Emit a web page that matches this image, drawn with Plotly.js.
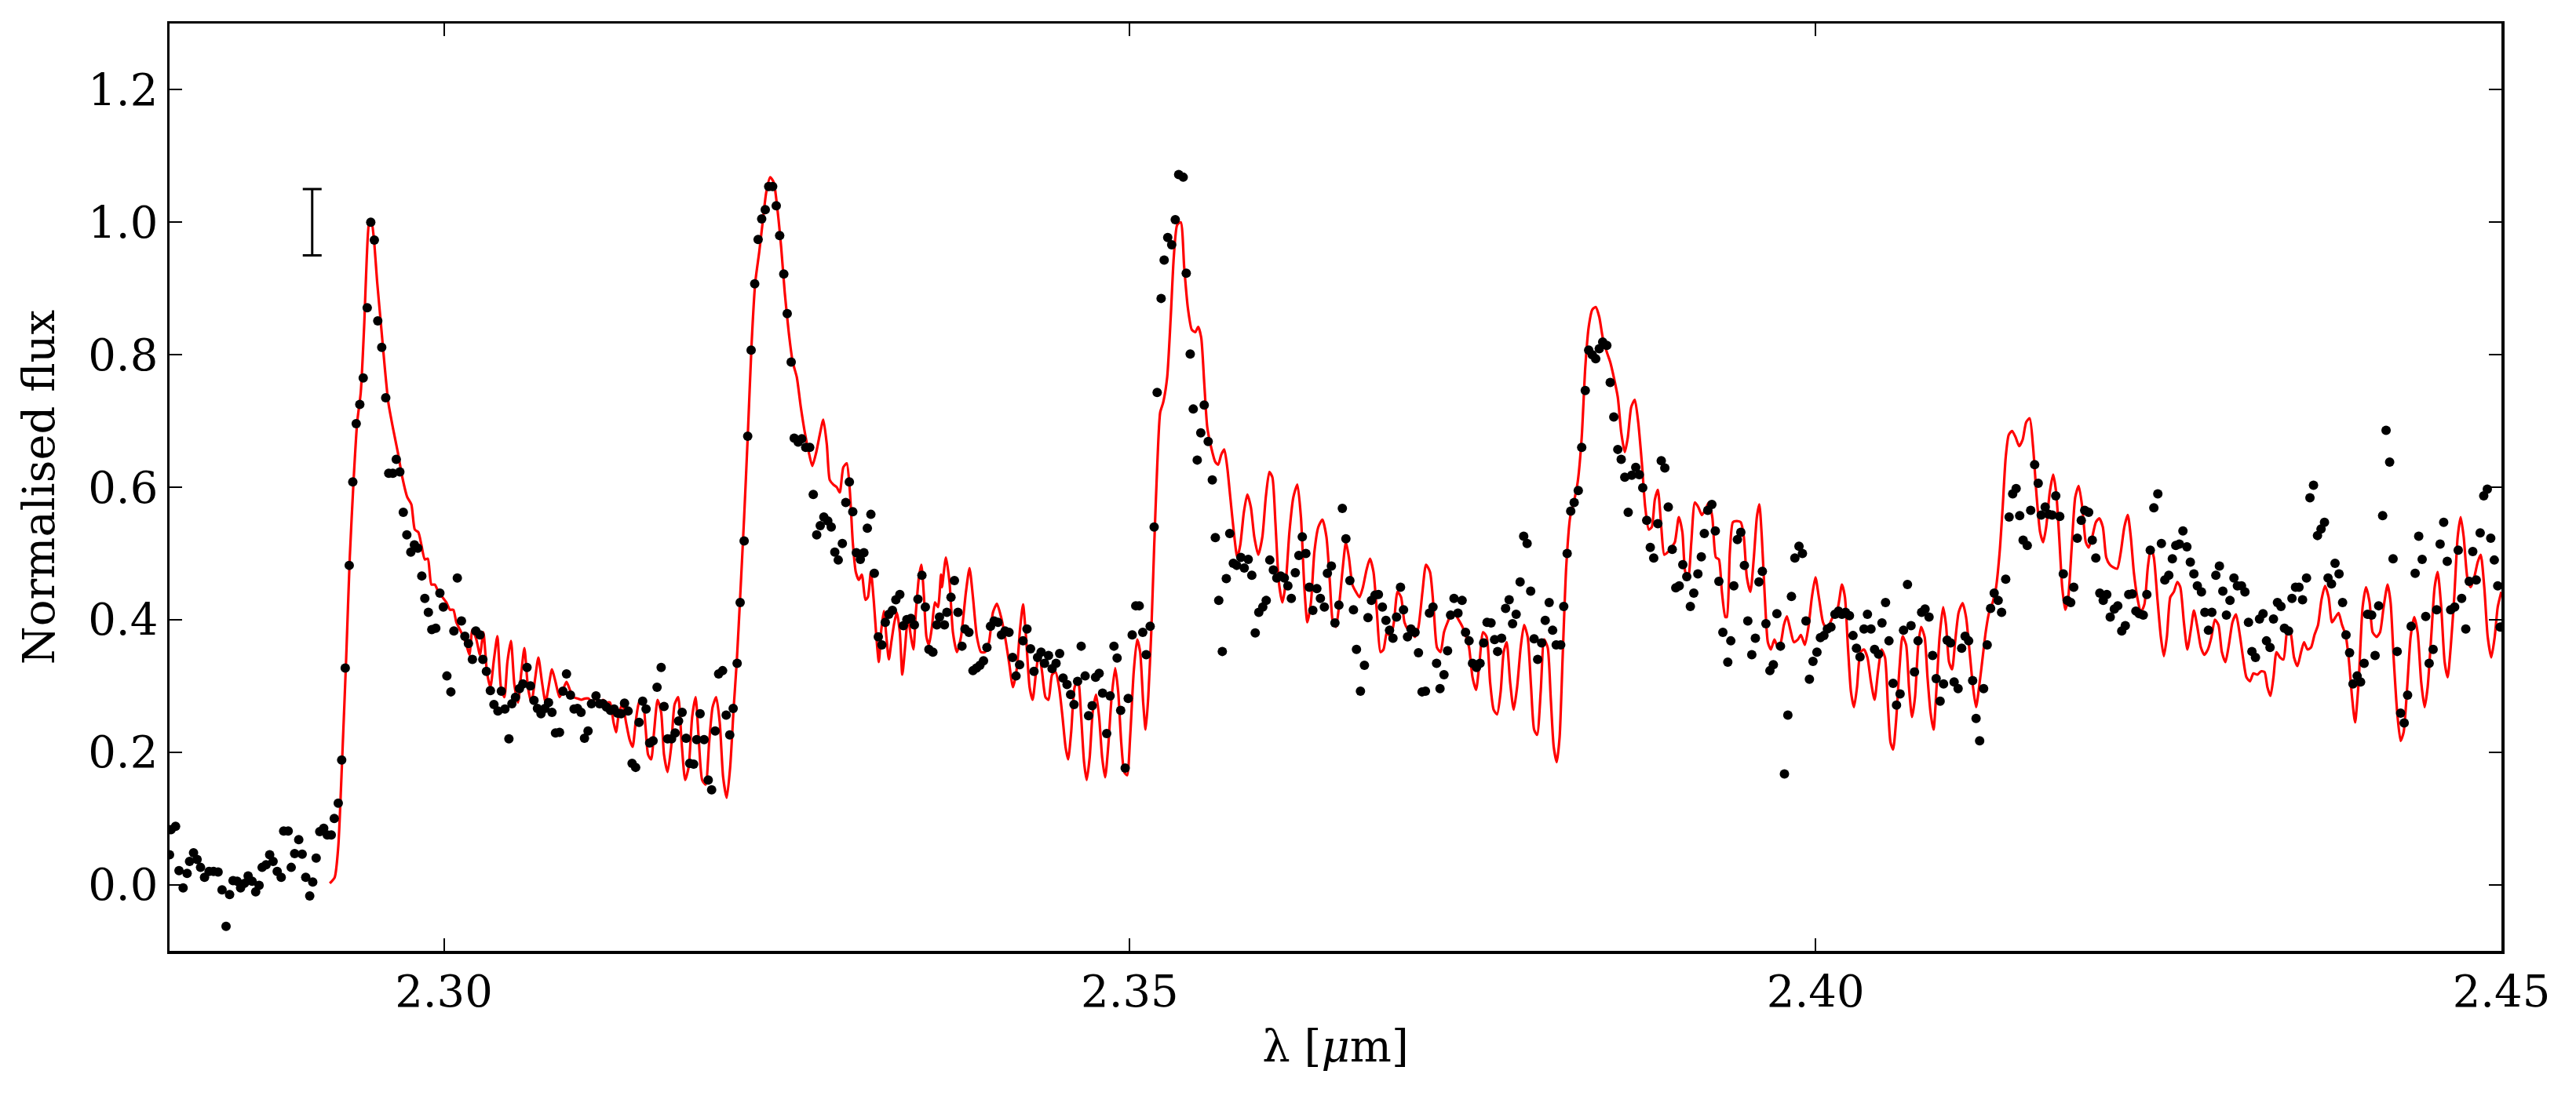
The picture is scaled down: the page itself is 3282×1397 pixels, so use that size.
<!DOCTYPE html>
<html>
<head>
<meta charset="utf-8">
<script src="https://cdn.plot.ly/plotly-3.0.1.min.js"></script>
<style>
html,body{margin:0;padding:0;background:#fff;}
#chart{width:3282px;height:1397px;}
</style>
</head>
<body>
<div id="chart"></div>
<script>
// Observed spectrum (black dots)
const dataLam = [
2.28000,2.28011,2.28044,2.28069,2.28099,2.28128,2.28146,2.28175,2.28201,2.28226,2.28255,2.28288,2.28321,2.28354,2.28383,2.28412,2.28438,2.28463,2.28493,2.28518,
2.28547,2.28573,2.28602,2.28628,2.28653,2.28675,2.28704,2.28730,2.28755,2.28785,2.28814,2.28832,2.28865,2.28887,2.28912,2.28942,2.28967,2.28993,2.29022,2.29044,
2.29069,2.29095,2.29124,2.29150,2.29179,2.29201,2.29230,2.29255,2.29281,2.29310,2.29336,2.29361,2.29387,2.29412,2.29441,2.29467,2.29493,2.29518,2.29547,2.29576,
2.29598,2.29628,2.29653,2.29679,2.29704,2.29730,2.29759,2.29785,2.29810,2.29839,2.29861,2.29887,2.29912,2.29941,2.29971,2.29996,2.30022,2.30051,2.30073,2.30098,
2.30128,2.30153,2.30179,2.30208,2.30233,2.30263,2.30284,2.30310,2.30339,2.30365,2.30394,2.30419,2.30445,2.30474,2.30496,2.30522,2.30551,2.30576,2.30606,2.30631,
2.30657,2.30682,2.30708,2.30737,2.30763,2.30788,2.30814,2.30843,2.30868,2.30894,2.30923,2.30949,2.30974,2.31000,2.31025,2.31051,2.31076,2.31109,2.31135,2.31160,
2.31186,2.31215,2.31241,2.31266,2.31292,2.31317,2.31343,2.31372,2.31398,2.31423,2.31449,2.31474,2.31500,2.31525,2.31554,2.31584,2.31605,2.31631,2.31660,2.31686,
2.31711,2.31737,2.31766,2.31792,2.31821,2.31843,2.31868,2.31897,2.31927,2.31952,2.31978,2.32003,2.32032,2.32058,2.32084,2.32109,2.32138,2.32160,2.32189,2.32215,
2.32240,2.32266,2.32291,2.32317,2.32343,2.32368,2.32397,2.32423,2.32448,2.32478,2.32503,2.32532,2.32554,2.32583,2.32609,2.32638,2.32667,2.32693,2.32718,2.32744,
2.32770,2.32799,2.32824,2.32850,2.32875,2.32905,2.32930,2.32956,2.32981,2.33007,2.33036,2.33062,2.33087,2.33113,2.33138,2.33167,2.33193,2.33218,2.33244,2.33270,
2.33295,2.33324,2.33350,2.33375,2.33405,2.33430,2.33456,2.33485,2.33510,2.33536,2.33565,2.33594,2.33613,
2.33649,2.33667,2.33697,2.33722,2.33748,2.33777,2.33799,2.33828,2.33857,2.33883,2.33908,2.33934,2.33959,2.33985,2.34011,2.34040,2.34065,2.34091,2.34120,2.34146,
2.34171,2.34197,2.34222,2.34251,2.34277,2.34302,2.34328,2.34354,2.34379,2.34408,2.34434,2.34463,2.34489,2.34514,2.34543,2.34569,2.34594,2.34620,2.34646,2.34675,
2.34700,2.34726,2.34751,2.34777,2.34802,2.34832,2.34857,2.34885,2.34908,2.34934,2.34967,2.34989,2.35018,2.35044,2.35069,2.35095,2.35120,2.35149,2.35178,2.35200,
2.35229,2.35251,2.35277,2.35306,2.35332,2.35357,2.35390,2.35412,2.35441,2.35463,2.35492,2.35518,2.35543,2.35572,2.35602,2.35624,2.35649,2.35675,2.35704,2.35729,
2.35755,2.35780,2.35810,2.35835,2.35864,2.35890,2.35915,2.35941,2.35970,2.35995,2.36021,2.36047,2.36072,2.36101,2.36127,2.36153,2.36178,2.36207,2.36233,2.36258,
2.36284,2.36309,2.36335,2.36364,2.36390,2.36419,2.36441,2.36470,2.36496,2.36525,2.36550,2.36576,2.36605,2.36631,2.36653,2.36682,2.36711,2.36737,2.36762,2.36788,
2.36813,2.36842,2.36868,2.36894,2.36919,2.36945,2.36974,2.36996,2.37025,2.37050,2.37080,2.37105,2.37131,2.37156,2.37185,2.37211,2.37237,2.37262,2.37291,2.37317,
2.37339,2.37364,2.37393,2.37423,2.37448,2.37474,2.37499,2.37528,2.37554,2.37580,2.37605,2.37634,2.37660,2.37682,2.37711,2.37740,2.37766,2.37791,2.37817,2.37846,
2.37872,2.37897,2.37923,2.37948,2.37974,2.38003,2.38029,2.38058,2.38083,2.38109,2.38142,2.38164,2.38189,2.38215,2.38240,2.38270,2.38295,2.38321,2.38346,2.38372,
2.38397,2.38423,2.38448,2.38478,2.38503,2.38529,2.38558,2.38583,2.38609,2.38634,2.38660,2.38689,2.38715,2.38740,2.38769,2.38795,2.38820,2.38850,2.38875,2.38901,
2.38926,2.38955,2.38981,2.39006,2.39032,2.39061,2.39087,2.39112,2.39142,2.39167,2.39189,2.39214,2.39244,2.39269,2.39295,2.39324,
2.39360,2.39382,2.39404,2.39430,2.39455,2.39481,2.39506,2.39535,2.39561,2.39587,2.39612,2.39638,2.39667,2.39692,2.39718,2.39744,2.39773,2.39798,2.39824,2.39849,
2.39879,2.39904,2.39930,2.39955,2.39981,2.40010,2.40035,2.40061,2.40086,2.40112,2.40141,2.40167,2.40192,2.40218,2.40247,2.40273,2.40298,2.40324,2.40353,2.40378,
2.40404,2.40430,2.40459,2.40484,2.40510,2.40535,2.40565,2.40590,2.40616,2.40641,2.40670,2.40696,2.40721,2.40747,2.40773,2.40798,2.40827,2.40853,2.40879,2.40908,
2.40933,2.40959,2.40984,2.41010,2.41039,2.41065,2.41090,2.41116,2.41145,2.41170,2.41196,2.41225,2.41251,2.41276,2.41302,2.41331,2.41356,2.41386,2.41411,2.41437,
2.41462,2.41488,2.41513,2.41543,2.41568,2.41597,2.41623,2.41645,2.41674,2.41700,2.41725,2.41751,2.41780,2.41806,2.41835,2.41860,2.41882,2.41908,2.41937,2.41962,
2.41991,2.42017,2.42043,2.42072,2.42097,2.42123,2.42148,2.42178,2.42203,2.42232,2.42258,2.42283,2.42309,2.42335,2.42360,2.42389,2.42415,2.42440,2.42466,2.42495,
2.42521,2.42546,2.42575,2.42601,2.42626,2.42652,2.42678,2.42707,2.42732,2.42758,2.42783,2.42813,2.42838,2.42864,2.42889,2.42918,2.42944,2.42969,2.42995,2.43021,
2.43050,2.43075,2.43105,2.43130,2.43156,2.43181,2.43207,2.43236,2.43262,2.43287,2.43313,2.43338,2.43367,2.43393,2.43418,2.43448,2.43473,2.43499,2.43524,2.43550,
2.43579,2.43604,2.43630,2.43659,2.43685,2.43710,2.43736,2.43761,2.43787,2.43816,2.43842,2.43867,2.43893,2.43918,2.43948,2.43973,2.43999,2.44024,2.44054,2.44079,
2.44105,2.44134,2.44159,2.44185,2.44210,2.44240,2.44265,2.44291,2.44316,2.44342,2.44371,2.44397,2.44422,2.44448,2.44473,2.44502,2.44528,2.44553,2.44579,2.44605,
2.44630,2.44659,2.44685,2.44710,2.44740,2.44765,2.44791,2.44816,2.44845,2.44871,2.44897,2.44922,2.44948,2.44973,2.44991
];
const dataFlux = [
0.045,0.083,0.088,0.021,-0.005,0.017,0.035,0.048,0.038,0.026,0.011,0.020,0.020,0.019,-0.008,-0.063,-0.015,0.006,0.005,-0.005,
0.002,0.013,0.005,-0.011,-0.001,0.026,0.030,0.045,0.035,0.020,0.011,0.081,0.081,0.026,0.047,0.068,0.046,0.011,-0.017,0.004,
0.040,0.080,0.085,0.075,0.075,0.100,0.123,0.188,0.327,0.482,0.608,0.696,0.725,0.765,0.871,1.000,0.973,0.851,0.811,0.735,
0.621,0.621,0.642,0.623,0.562,0.528,0.502,0.513,0.508,0.466,0.432,0.411,0.385,0.387,0.440,0.419,0.315,0.291,0.383,0.463,
0.398,0.375,0.364,0.340,0.383,0.377,0.340,0.322,0.293,0.272,0.262,0.292,0.265,0.220,0.273,0.283,0.296,0.303,0.328,0.300,
0.278,0.266,0.258,0.266,0.275,0.260,0.229,0.230,0.292,0.318,0.286,0.265,0.266,0.260,0.221,0.232,0.273,0.285,0.273,0.273,
0.268,0.263,0.265,0.259,0.258,0.274,0.262,0.183,0.177,0.245,0.277,0.265,0.214,0.217,0.298,0.328,0.269,0.220,0.220,0.229,
0.247,0.260,0.221,0.183,0.182,0.219,0.258,0.219,0.158,0.143,0.232,0.318,0.323,0.256,0.226,0.266,0.334,0.426,0.519,0.677,
0.807,0.907,0.974,1.005,1.019,1.054,1.054,1.025,0.980,0.922,0.862,0.789,0.674,0.668,0.673,0.660,0.660,0.589,0.528,0.542,
0.555,0.549,0.540,0.502,0.490,0.515,0.577,0.608,0.563,0.501,0.491,0.501,0.538,0.559,0.470,0.374,0.362,0.396,0.408,0.414,
0.430,0.438,0.391,0.400,0.402,0.392,0.431,0.467,0.419,0.355,0.351,0.392,0.404,
0.392,0.411,0.434,0.459,0.411,0.360,0.386,0.381,0.323,0.327,0.331,0.338,0.358,0.390,0.398,0.396,0.377,0.383,0.381,0.343,
0.315,0.332,0.368,0.386,0.356,0.322,0.343,0.351,0.334,0.346,0.326,0.334,0.349,0.312,0.302,0.287,0.272,0.307,0.360,0.315,
0.255,0.270,0.313,0.319,0.289,0.228,0.285,0.360,0.342,0.263,0.176,0.281,0.377,0.421,0.421,0.381,0.347,0.390,0.540,0.743,
0.885,0.943,0.977,0.966,1.004,1.072,1.068,0.923,0.801,0.718,0.641,0.682,0.724,0.669,0.611,0.524,0.429,0.352,0.462,0.530,
0.485,0.482,0.494,0.478,0.491,0.467,0.380,0.411,0.419,0.429,0.490,0.475,0.463,0.466,0.463,0.451,0.432,0.471,0.497,0.525,
0.500,0.449,0.414,0.447,0.432,0.419,0.470,0.481,0.395,0.422,0.568,0.522,0.459,0.415,0.355,0.292,0.331,0.403,0.429,0.437,
0.438,0.419,0.399,0.384,0.372,0.404,0.449,0.415,0.374,0.386,0.381,0.350,0.291,0.292,0.410,0.419,0.334,0.296,0.317,0.353,
0.407,0.432,0.410,0.429,0.381,0.368,0.334,0.328,0.334,0.365,0.396,0.395,0.370,0.352,0.372,0.417,0.430,0.394,0.408,0.457,
0.526,0.515,0.443,0.371,0.340,0.365,0.399,0.426,0.384,0.362,0.362,0.420,0.500,0.564,0.577,0.595,0.660,0.746,0.807,0.800,
0.794,0.809,0.819,0.814,0.758,0.706,0.657,0.642,0.615,0.562,0.618,0.630,0.619,0.599,0.550,0.509,0.493,0.545,0.640,0.629,
0.570,0.506,0.448,0.451,0.483,0.465,0.420,0.440,0.469,0.495,0.530,0.565,0.574,0.534,0.458,0.381,
0.336,0.368,0.451,0.521,0.532,0.482,0.398,0.347,0.372,0.457,0.473,0.394,0.323,0.332,0.409,0.360,0.167,0.256,0.435,0.493,
0.511,0.500,0.398,0.310,0.337,0.351,0.373,0.376,0.386,0.389,0.408,0.413,0.408,0.411,0.406,0.376,0.357,0.344,0.386,0.408,
0.386,0.355,0.348,0.395,0.426,0.368,0.304,0.271,0.288,0.384,0.453,0.391,0.321,0.368,0.411,0.416,0.404,0.346,0.311,0.277,
0.303,0.369,0.365,0.306,0.296,0.357,0.375,0.368,0.308,0.251,0.217,0.296,0.362,0.417,0.440,0.429,0.411,0.461,0.555,0.590,
0.598,0.557,0.520,0.512,0.565,0.634,0.606,0.558,0.570,0.559,0.558,0.587,0.556,0.469,0.429,0.426,0.449,0.523,0.550,0.565,
0.562,0.520,0.493,0.440,0.429,0.438,0.404,0.416,0.421,0.383,0.391,0.438,0.439,0.413,0.409,0.407,0.438,0.505,0.569,0.590,
0.515,0.460,0.467,0.492,0.512,0.514,0.534,0.510,0.487,0.469,0.451,0.442,0.411,0.384,0.411,0.467,0.481,0.443,0.407,0.429,
0.463,0.451,0.451,0.442,0.396,0.352,0.343,0.401,0.409,0.368,0.358,0.401,0.426,0.420,0.387,0.383,0.432,0.449,0.449,0.430,
0.463,0.584,0.603,0.527,0.537,0.547,0.463,0.454,0.485,0.469,0.426,0.377,0.350,0.303,0.315,0.306,0.334,0.408,0.407,0.346,
0.421,0.557,0.686,0.638,0.492,0.352,0.259,0.244,0.286,0.390,0.470,0.526,0.491,0.405,0.334,0.355,0.415,0.514,0.547,0.488,
0.415,0.419,0.505,0.432,0.386,0.458,0.503,0.460,0.531,0.587,0.597,0.523,0.490,0.451,0.389
];

// Model spectrum (red line)
const modelLam = [
2.29168,2.29204,2.29230,2.29259,2.29288,2.29314,2.29343,2.29368,2.29394,2.29420,2.29438,2.29456,2.29471,2.29489,2.29514,2.29540,2.29569,2.29595,2.29631,2.29664,
2.29697,2.29733,2.29763,2.29788,2.29814,2.29836,2.29861,2.29883,2.29909,2.29934,2.29960,2.29989,2.30018,2.30044,2.30069,2.30091,2.30117,2.30142,2.30164,2.30186,
2.30208,2.30237,2.30263,2.30288,2.30314,2.30339,2.30365,2.30390,2.30416,2.30441,2.30463,2.30489,2.30514,2.30540,2.30565,2.30587,2.30613,2.30638,2.30664,2.30689,
2.30715,2.30741,2.30763,2.30788,2.30814,2.30843,2.30868,2.30894,2.30919,2.30945,2.30974,2.31003,2.31029,2.31054,2.31084,2.31109,2.31135,2.31160,2.31186,2.31211,
2.31237,2.31255,2.31277,2.31303,2.31328,2.31354,2.31376,2.31398,2.31423,2.31449,2.31470,2.31489,2.31511,2.31532,2.31558,2.31584,2.31605,2.31631,2.31657,2.31682,
2.31708,2.31733,2.31759,2.31784,2.31810,2.31835,2.31857,2.31883,2.31908,2.31934,2.31959,2.31985,2.32011,2.32036,2.32062,2.32087,2.32113,2.32135,2.32160,2.32189,
2.32215,2.32244,2.32270,2.32299,2.32324,2.32350,2.32379,2.32405,2.32434,2.32459,2.32485,2.32514,2.32543,2.32573,2.32602,2.32631,2.32660,2.32686,2.32715,2.32740,
2.32766,2.32792,2.32813,2.32839,2.32864,2.32886,2.32912,2.32937,2.32959,2.32981,2.33003,2.33025,2.33047,2.33073,2.33091,2.33113,2.33135,2.33153,2.33171,2.33189,
2.33208,2.33226,2.33244,2.33262,2.33284,2.33302,2.33324,2.33342,2.33361,2.33383,2.33405,2.33423,2.33441,2.33463,2.33481,2.33499,2.33518,2.33536,2.33558,2.33580,
2.33602,2.33624,
2.33631,2.33660,2.33686,2.33711,2.33740,2.33770,2.33806,2.33832,2.33857,2.33886,2.33916,2.33945,2.33974,2.34003,2.34032,2.34062,2.34091,2.34120,2.34149,2.34178,
2.34200,2.34222,2.34244,2.34270,2.34292,2.34317,2.34339,2.34361,2.34386,2.34408,2.34434,2.34459,2.34485,2.34510,2.34532,2.34551,2.34573,2.34598,2.34624,2.34646,
2.34667,2.34686,2.34708,2.34730,2.34755,2.34777,2.34799,2.34821,2.34843,2.34868,2.34894,2.34916,2.34938,2.34960,2.34981,2.35003,2.35029,2.35054,2.35076,2.35098,
2.35116,2.35135,2.35157,2.35178,2.35200,2.35222,2.35244,2.35273,2.35299,2.35321,2.35346,2.35372,2.35397,2.35423,2.35452,2.35478,2.35499,2.35521,2.35543,2.35565,
2.35594,2.35624,2.35645,2.35667,2.35689,2.35711,2.35733,2.35759,2.35784,2.35806,2.35832,2.35857,2.35883,2.35908,2.35937,2.35967,2.35992,2.36018,2.36040,2.36062,
2.36087,2.36113,2.36138,2.36164,2.36193,2.36222,2.36248,2.36273,2.36295,2.36321,2.36346,2.36375,2.36405,2.36434,2.36459,2.36481,2.36503,2.36525,2.36550,2.36576,
2.36598,2.36623,2.36649,2.36675,2.36700,2.36726,2.36751,2.36777,2.36802,2.36828,2.36850,2.36875,2.36901,2.36926,2.36952,2.36978,2.37003,2.37029,2.37054,2.37080,
2.37105,2.37134,2.37160,2.37189,2.37215,2.37240,2.37266,2.37291,2.37317,2.37343,2.37372,2.37397,2.37426,2.37452,2.37474,2.37499,2.37525,2.37550,2.37576,2.37602,
2.37627,2.37653,2.37678,2.37704,2.37726,2.37748,2.37773,2.37799,2.37824,2.37850,2.37875,2.37901,2.37926,2.37948,2.37970,2.37996,2.38021,2.38047,2.38069,2.38091,
2.38113,2.38134,2.38156,2.38182,2.38211,2.38237,2.38266,2.38295,2.38321,2.38346,2.38372,2.38397,2.38423,2.38448,2.38478,2.38503,2.38529,2.38558,2.38583,2.38609,
2.38631,2.38656,2.38682,2.38707,2.38733,2.38758,2.38784,2.38806,2.38828,2.38850,2.38875,2.38897,2.38923,2.38948,2.38974,2.39003,2.39029,2.39050,2.39072,2.39094,
2.39120,2.39145,2.39171,2.39196,2.39222,2.39247,2.39273,2.39295,2.39317,2.39342,
2.39353,2.39375,2.39397,2.39426,2.39455,2.39477,2.39499,2.39525,2.39550,2.39572,2.39590,2.39608,2.39630,2.39652,2.39674,2.39700,2.39725,2.39747,2.39769,2.39791,
2.39816,2.39842,2.39871,2.39893,2.39922,2.39948,2.39973,2.39999,2.40024,2.40054,2.40083,2.40108,2.40134,2.40163,2.40192,2.40214,2.40236,2.40258,2.40280,2.40302,
2.40327,2.40353,2.40378,2.40404,2.40430,2.40455,2.40481,2.40506,2.40528,2.40546,2.40565,2.40586,2.40612,2.40634,2.40660,2.40681,2.40703,2.40725,2.40747,2.40769,
2.40795,2.40816,2.40838,2.40860,2.40882,2.40904,2.40930,2.40951,2.40973,2.40995,2.41017,2.41043,2.41072,2.41097,2.41123,2.41148,2.41170,2.41192,2.41218,2.41240,
2.41265,2.41291,2.41316,2.41342,2.41364,2.41386,2.41408,2.41433,2.41459,2.41484,2.41510,2.41535,2.41561,2.41586,2.41612,2.41637,2.41659,2.41681,2.41707,2.41732,
2.41754,2.41776,2.41798,2.41820,2.41842,2.41867,2.41893,2.41918,2.41944,2.41970,2.41991,2.42017,2.42043,2.42068,2.42094,2.42119,2.42145,2.42170,2.42199,2.42225,
2.42251,2.42276,2.42298,2.42320,2.42345,2.42371,2.42397,2.42422,2.42444,2.42466,2.42491,2.42517,2.42539,2.42561,2.42586,2.42612,2.42637,2.42659,2.42685,2.42710,
2.42736,2.42758,2.42783,2.42809,2.42834,2.42860,2.42886,2.42911,2.42937,2.42962,2.42988,2.43013,2.43039,2.43065,2.43090,2.43116,2.43141,2.43167,2.43192,2.43221,
2.43247,2.43273,2.43294,2.43316,2.43338,2.43360,2.43386,2.43411,2.43440,2.43462,2.43488,2.43513,2.43539,2.43561,2.43586,2.43612,2.43637,2.43663,2.43688,2.43714,
2.43740,2.43765,2.43791,2.43813,2.43838,2.43864,2.43886,2.43911,2.43933,2.43959,2.43988,2.44013,2.44039,2.44061,2.44090,2.44115,2.44141,2.44170,2.44192,2.44214,
2.44240,2.44265,2.44287,2.44313,2.44338,2.44364,2.44389,2.44415,2.44440,2.44462,2.44488,2.44513,2.44535,2.44561,2.44586,2.44608,2.44630,2.44656,2.44681,2.44703,
2.44725,2.44751,2.44776,2.44802,2.44827,2.44849,2.44875,2.44900,2.44926,2.44951,2.44973,2.44999
];
const modelFlux = [
0.002,0.011,0.057,0.192,0.343,0.494,0.615,0.698,0.743,0.849,0.947,1.000,1.002,0.977,0.909,0.849,0.781,0.728,0.687,0.653,
0.615,0.585,0.574,0.536,0.532,0.513,0.491,0.492,0.453,0.453,0.442,0.434,0.426,0.415,0.415,0.396,0.385,0.374,0.362,0.347,
0.385,0.370,0.347,0.381,0.321,0.298,0.340,0.375,0.298,0.283,0.336,0.368,0.302,0.275,0.321,0.357,0.298,0.275,0.309,0.343,
0.306,0.275,0.298,0.325,0.306,0.283,0.294,0.306,0.294,0.283,0.281,0.279,0.281,0.281,0.275,0.283,0.268,0.279,0.275,0.275,
0.245,0.230,0.260,0.272,0.245,0.219,0.208,0.245,0.275,0.279,0.238,0.196,0.189,0.230,0.279,0.260,0.196,0.170,0.208,0.272,
0.283,0.215,0.158,0.177,0.253,0.283,0.223,0.158,0.151,0.215,0.268,0.283,0.245,0.162,0.131,0.177,0.268,0.336,0.434,0.555,
0.675,0.819,0.909,0.955,1.000,1.045,1.068,1.060,1.015,0.962,0.894,0.834,0.789,0.766,0.721,0.683,0.653,0.632,0.653,0.679,
0.702,0.664,0.611,0.604,0.600,0.592,0.630,0.636,0.596,0.517,0.472,0.460,0.468,0.430,0.434,0.472,0.426,0.374,0.336,0.385,
0.413,0.374,0.340,0.366,0.396,0.411,0.381,0.317,0.355,0.404,0.374,0.355,0.411,0.464,0.483,0.438,0.374,0.362,0.389,0.426,
0.419,0.468,
0.449,0.494,0.457,0.381,0.351,0.374,0.442,0.478,0.434,0.374,0.351,0.351,0.366,0.411,0.424,0.404,0.374,0.336,0.298,0.328,
0.385,0.423,0.374,0.298,0.279,0.321,0.351,0.321,0.283,0.279,0.317,0.321,0.298,0.253,0.208,0.189,0.230,0.298,0.309,0.253,
0.185,0.158,0.192,0.260,0.287,0.253,0.192,0.162,0.208,0.283,0.327,0.291,0.215,0.170,0.165,0.223,0.321,0.370,0.351,0.275,
0.234,0.283,0.381,0.509,0.630,0.713,0.728,0.766,0.857,0.947,0.996,1.000,0.932,0.872,0.838,0.834,0.842,0.826,0.758,0.691,
0.660,0.638,0.634,0.649,0.657,0.630,0.585,0.532,0.494,0.513,0.562,0.589,0.570,0.525,0.498,0.525,0.585,0.623,0.615,0.547,
0.457,0.426,0.457,0.532,0.585,0.604,0.555,0.449,0.396,0.426,0.502,0.540,0.551,0.525,0.457,0.396,0.389,0.419,0.472,0.517,
0.494,0.453,0.442,0.434,0.449,0.475,0.492,0.472,0.411,0.351,0.355,0.381,0.374,0.396,0.442,0.434,0.396,0.385,0.381,0.374,
0.389,0.442,0.483,0.472,0.419,0.358,0.351,0.381,0.396,0.408,0.408,0.400,0.389,0.374,0.358,0.313,0.294,0.336,0.381,0.374,
0.306,0.264,0.257,0.291,0.351,0.366,0.306,0.264,0.298,0.358,0.392,0.374,0.298,0.234,0.226,0.291,0.370,0.358,0.283,0.208,
0.185,0.223,0.343,0.479,0.555,0.577,0.608,0.675,0.781,0.842,0.868,0.872,0.857,0.826,0.804,0.789,0.766,0.736,0.683,0.653,
0.675,0.721,0.732,0.698,0.638,0.570,0.536,0.540,0.581,0.596,0.540,0.498,0.502,0.509,0.517,0.555,0.532,0.472,0.464,0.517,
0.577,0.570,0.558,0.566,0.577,0.555,0.494,0.491,0.442,0.404,
0.404,0.502,0.547,0.549,0.547,0.525,0.464,0.442,0.494,0.555,0.574,0.525,0.434,0.366,0.355,0.370,0.358,0.366,0.392,0.405,
0.385,0.366,0.370,0.377,0.362,0.389,0.434,0.464,0.434,0.396,0.385,0.396,0.408,0.419,0.453,0.434,0.358,0.291,0.268,0.298,
0.351,0.355,0.343,0.306,0.279,0.321,0.355,0.343,0.268,0.215,0.204,0.245,0.328,0.375,0.362,0.298,0.253,0.283,0.358,0.389,
0.374,0.313,0.260,0.234,0.298,0.374,0.419,0.392,0.336,0.325,0.366,0.411,0.425,0.404,0.351,0.298,0.268,0.298,0.343,0.381,
0.411,0.426,0.449,0.502,0.570,0.645,0.679,0.685,0.675,0.662,0.672,0.698,0.704,0.660,0.585,0.532,0.517,0.540,0.592,0.619,
0.592,0.525,0.449,0.415,0.434,0.509,0.585,0.602,0.570,0.517,0.509,0.525,0.547,0.553,0.540,0.494,0.483,0.479,0.477,0.502,
0.540,0.558,0.525,0.472,0.434,0.411,0.423,0.479,0.509,0.494,0.434,0.374,0.345,0.374,0.434,0.442,0.457,0.449,0.396,0.355,
0.385,0.414,0.389,0.358,0.347,0.355,0.374,0.400,0.392,0.351,0.336,0.362,0.396,0.408,0.381,0.343,0.313,0.307,0.319,0.317,
0.322,0.321,0.298,0.285,0.313,0.351,0.343,0.340,0.385,0.381,0.343,0.330,0.351,0.366,0.355,0.358,0.377,0.392,0.430,0.451,
0.434,0.396,0.404,0.410,0.392,0.377,0.343,0.283,0.245,0.306,0.419,0.449,0.426,0.381,0.374,0.381,0.419,0.453,0.426,0.343,
0.260,0.217,0.230,0.298,0.374,0.404,0.381,0.306,0.268,0.298,0.374,0.449,0.472,0.419,0.336,0.313,0.358,0.434,0.525,0.555,
0.525,0.464,0.449,0.464,0.487,0.498,0.449,0.374,0.343,0.374,0.419,0.442
];

// Representative error bar
const errLam = [2.2904];
const errFlux = [1.0];
const errHalf = [0.05];

// Axis ticks
const xTicks = [2.30, 2.35, 2.40, 2.45];
const xTickText = ["2.30", "2.35", "2.40", "2.45"];
const yTicks = [0.0, 0.2, 0.4, 0.6, 0.8, 1.0, 1.2];
const yTickText = ["0.0", "0.2", "0.4", "0.6", "0.8", "1.0", "1.2"];

const FONT = "DejaVu Serif, Liberation Serif, serif";

const traces = [
  {
    x: modelLam, y: modelFlux, type: "scatter", mode: "lines",
    line: {color: "#ff0000", width: 3.2, shape: "spline", smoothing: 0.6},
    hoverinfo: "skip", showlegend: false
  },
  {
    x: dataLam, y: dataFlux, type: "scatter", mode: "markers",
    marker: {color: "#000000", size: 12, line: {width: 0}},
    showlegend: false
  },
  {
    x: errLam, y: errFlux, type: "scatter", mode: "markers",
    marker: {color: "rgba(0,0,0,0)", size: 1},
    error_y: {type: "data", array: errHalf, visible: true, color: "#000000", thickness: 3, width: 12},
    showlegend: false
  }
];

const axisCommon = {
  showgrid: false, zeroline: false,
  showline: true, linecolor: "#000", linewidth: 3.5, mirror: "ticks",
  ticks: "inside", ticklen: 16, tickwidth: 2, tickcolor: "#000",
  tickfont: {family: FONT, size: 56, color: "#000"}
};

const layout = {
  width: 3282, height: 1397,
  paper_bgcolor: "#fff", plot_bgcolor: "#fff",
  margin: {l: 216, r: 95, t: 30, b: 185, pad: 0},
  font: {family: FONT, color: "#000"},
  xaxis: Object.assign({}, axisCommon, {
    range: [2.28, 2.45], tickmode: "array", tickvals: xTicks, ticktext: xTickText,
    title: {text: "λ [<i>μ</i>m]", font: {family: FONT, size: 56, color: "#000"}, standoff: 20}
  }),
  yaxis: Object.assign({}, axisCommon, {
    range: [-0.1, 1.3], tickmode: "array", tickvals: yTicks, ticktext: yTickText,
    title: {text: "Normalised flux", font: {family: FONT, size: 56, color: "#000"}, standoff: 25}
  })
};

Plotly.newPlot("chart", traces, layout, {staticPlot: true, displayModeBar: false});
</script>
</body>
</html>
